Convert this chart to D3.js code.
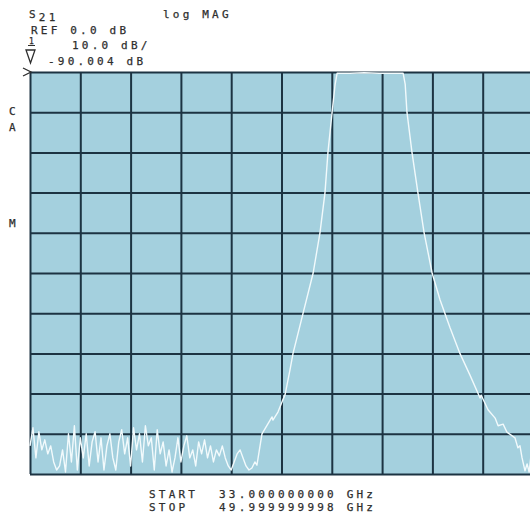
<!DOCTYPE html>
<html>
<head>
<meta charset="utf-8">
<script src="https://cdn.jsdelivr.net/npm/d3@7"></script>
<style>
  html, body { margin: 0; padding: 0; background: #fff; }
  svg { display: block; }
  .lbl { font-family: "DejaVu Sans Mono", monospace; font-size: 11px; letter-spacing: 3.2px; fill: #2e2e2e; stroke: #2e2e2e; stroke-width: 0.25px; }
</style>
</head>
<body>
<div id="chart"></div>
<script>
'use strict';

// sweep settings (GHz) and display scale (dB)
var startGHz = 33.0,
    stopGHz = 50.0,
    refDb = 0.0,
    dbPerDiv = 10.0,
    divisions = 10;

// header / footer text
var headerLines = ['REF 0.0 dB', '10.0 dB/', '-90.004 dB'];
var footerLabels = ['START', 'STOP'];
var footerValues = ['33.000000000 GHz', '49.999999998 GHz'];
var sideLabels = ['C', 'A', 'M'];

// S21 trace: frequency (GHz) and magnitude (dB)
var traceGHz = [
  33.0, 33.1, 33.2, 33.3, 33.4, 33.5, 33.6, 33.7, 33.8, 33.9,
  34.0, 34.1, 34.2, 34.3, 34.4, 34.5, 34.6, 34.7, 34.8, 34.9,
  35.0, 35.1, 35.2, 35.3, 35.4, 35.5, 35.6, 35.7, 35.8, 35.9,
  36.0, 36.1, 36.2, 36.3, 36.4, 36.5, 36.6, 36.7, 36.8, 36.9,
  37.0, 37.1, 37.2, 37.3, 37.4, 37.5, 37.6, 37.7, 37.8, 37.9,
  38.0, 38.1, 38.2, 38.3, 38.4, 38.5, 38.6, 38.7, 38.8, 38.9,
  39.0, 39.1, 39.2, 39.3, 39.4, 39.5, 39.6, 39.7, 39.8, 39.9,
  40.0, 40.1, 40.2, 40.3, 40.4, 40.5, 40.6, 40.67,
  40.84, 41.18, 41.21, 41.38, 41.52, 41.62, 41.79, 41.89,
  42.23, 42.57, 42.80, 42.97, 43.07, 43.21, 43.31, 43.38,
  43.8, 44.3, 44.8, 45.2, 45.61,
  45.68, 45.74, 45.91, 46.11, 46.32, 46.59, 46.86, 47.20, 47.53, 47.87,
  48.14, 48.21, 48.25, 48.48, 48.72, 48.82, 48.99, 49.12, 49.39, 49.49,
  49.56, 49.63, 49.73, 49.80, 49.87, 49.93, 50.0
];
var traceDb = [
  -93.0, -88.5, -96.0, -89.5, -94.0, -91.5, -95.0, -93.0, -97.0, -99.0,
  -98.0, -94.0, -99.5, -90.0, -97.0, -88.0, -99.0, -91.0, -96.0, -90.0,
  -98.0, -92.0, -89.5, -97.0, -91.0, -99.0, -93.0, -90.0, -96.0, -99.0,
  -92.0, -89.0, -95.0, -91.0, -98.0, -88.5, -94.0, -90.0, -97.0, -88.0,
  -93.0, -91.0, -99.0, -89.0, -95.0, -92.0, -98.0, -94.0, -99.5, -96.0,
  -91.0, -97.0, -93.0, -90.5, -96.0, -94.0, -98.0, -92.0, -95.0, -91.5,
  -96.0, -93.0, -97.0, -94.0, -95.5, -93.0, -96.0, -98.0, -99.0, -97.0,
  -95.0, -94.0, -96.0, -98.0, -99.0, -98.5, -97.0, -97.8,
  -90.0, -85.8, -86.6, -84.6, -82.0, -80.3, -74.0, -70.0,
  -60.0, -50.0, -40.0, -30.0, -20.0, -10.0, -3.2, -0.3,
  -0.3, -0.2, -0.3, -0.3, -0.3,
  -3.0, -10.0, -20.0, -30.0, -40.0, -50.0, -56.7, -63.7, -70.0, -75.4,
  -79.9, -81.1, -80.4, -84.0, -86.1, -88.0, -87.6, -89.6, -91.0, -93.5,
  -93.0, -96.0, -99.2, -97.5, -99.5, -95.5, -98.0
];

var width = 530,
    height = 521,
    plot = { left: 30, top: 72, width: 503, height: 402 };

var svg = d3.select('#chart').append('svg')
    .attr('width', width)
    .attr('height', height);

var x = d3.scaleLinear()
    .domain([startGHz, stopGHz])
    .range([plot.left, plot.left + plot.width]);

var y = d3.scaleLinear()
    .domain([refDb - dbPerDiv * divisions, refDb])
    .range([plot.top + plot.height, plot.top]);

var gridGHz = d3.range(divisions + 1).map(function (i) { return startGHz + i * (stopGHz - startGHz) / divisions; });
var gridDb = d3.range(divisions + 1).map(function (i) { return refDb - i * dbPerDiv; });

// screen background
svg.append('rect')
    .attr('x', x(startGHz))
    .attr('y', y(refDb))
    .attr('width', x(stopGHz) - x(startGHz))
    .attr('height', y(gridDb[divisions]) - y(refDb))
    .attr('fill', '#a4d0de');

// graticule through the library's axes
var gridColor = '#1c3342';
var xGrid = svg.append('g')
    .attr('transform', 'translate(0,' + y(gridDb[divisions]) + ')')
    .call(d3.axisBottom(x).tickValues(gridGHz).tickSize(-(plot.height)).tickFormat(''));
var yGrid = svg.append('g')
    .attr('transform', 'translate(' + x(startGHz) + ',0)')
    .call(d3.axisLeft(y).tickValues(gridDb).tickSize(-(plot.width)).tickFormat(''));
[xGrid, yGrid].forEach(function (g) {
  g.select('.domain').remove();
  g.selectAll('line').attr('stroke', gridColor).attr('stroke-width', 2);
});

// trace
var points = traceGHz.map(function (f, i) { return [f, traceDb[i]]; });
var line = d3.line()
    .x(function (d) { return x(d[0]); })
    .y(function (d) { return y(d[1]); });

svg.append('path')
    .datum(points)
    .attr('d', line)
    .attr('fill', 'none')
    .attr('stroke', '#f2fafc')
    .attr('stroke-width', 1.4)
    .attr('stroke-linejoin', 'round');

// header text
var s = svg.append('text').attr('class', 'lbl').attr('x', 29).attr('y', 18);
s.append('tspan').text('S');
s.append('tspan').attr('dy', 3).text('21');

svg.append('text').attr('class', 'lbl').attr('x', 163).attr('y', 18).text('log MAG');
svg.append('text').attr('class', 'lbl').attr('x', 31).attr('y', 34).text(headerLines[0]);
svg.append('text').attr('class', 'lbl').attr('x', 72).attr('y', 49).text(headerLines[1]);
svg.append('text').attr('class', 'lbl').attr('x', 48).attr('y', 65).text(headerLines[2]);

// channel marker "1" with the ref triangle
svg.append('text').attr('class', 'lbl')
    .attr('x', 29).attr('y', 44)
    .style('font-size', '8px').style('letter-spacing', '0px')
    .text('1');
svg.append('line')
    .attr('x1', 28).attr('x2', 35).attr('y1', 45.5).attr('y2', 45.5)
    .attr('stroke', '#2e2e2e').attr('stroke-width', 1);
svg.append('path')
    .attr('d', 'M26,50 L35,50 L30.5,63 Z')
    .attr('fill', 'none')
    .attr('stroke', '#2e2e2e')
    .attr('stroke-width', 1.3);

// reference position marker
svg.append('path')
    .attr('d', 'M23,68 L31,' + y(refDb) + ' L23,76')
    .attr('fill', 'none')
    .attr('stroke', '#2e2e2e')
    .attr('stroke-width', 1.3);

// side annotation
svg.selectAll('.side')
    .data(sideLabels)
    .enter().append('text')
    .attr('class', 'lbl side')
    .attr('x', 9)
    .attr('y', function (d, i) { return [115, 131, 227][i]; })
    .text(function (d) { return d; });

// footer
svg.selectAll('.flabel')
    .data(footerLabels)
    .enter().append('text')
    .attr('class', 'lbl flabel')
    .attr('x', 149)
    .attr('y', function (d, i) { return 498 + i * 13; })
    .text(function (d) { return d; });
svg.selectAll('.fvalue')
    .data(footerValues)
    .enter().append('text')
    .attr('class', 'lbl fvalue')
    .attr('x', 219)
    .attr('y', function (d, i) { return 498 + i * 13; })
    .text(function (d) { return d; });
</script>
</body>
</html>
